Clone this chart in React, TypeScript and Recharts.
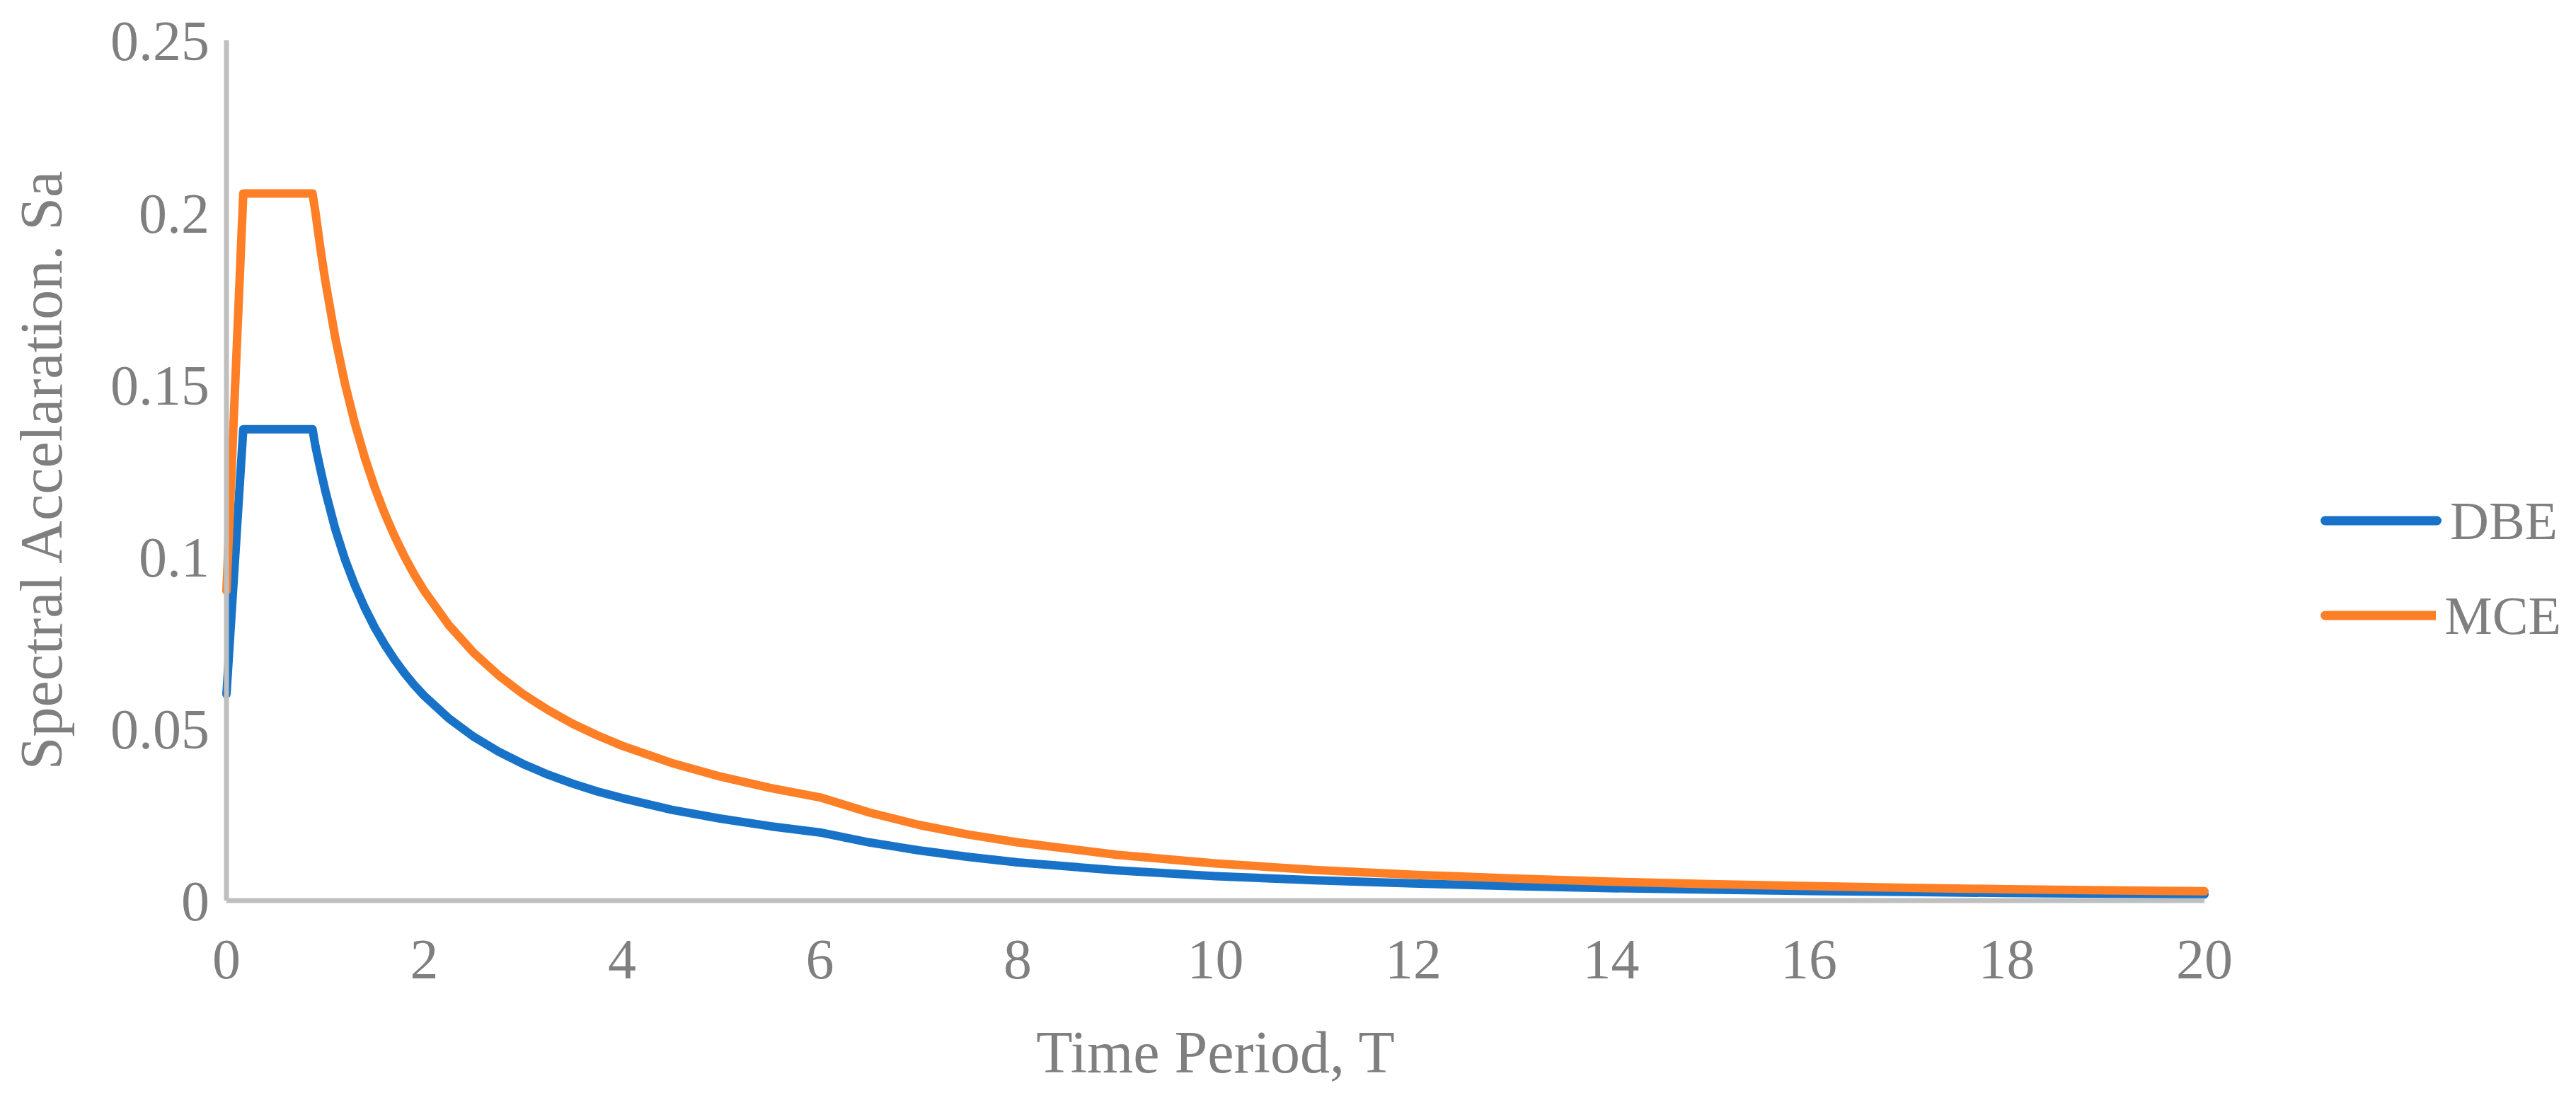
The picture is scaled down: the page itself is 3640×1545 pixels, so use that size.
import React from 'react';
import { LineChart, Line, XAxis, YAxis, Legend } from 'recharts';

// periods (s)
const PERIODS = [
  0, 0.17, 0.5, 0.87, 0.9, 0.95, 1.0, 1.1, 1.2, 1.3, 1.4, 1.5, 1.6, 1.7, 1.8, 1.9, 2.0,
  2.25, 2.5, 2.75, 3.0, 3.25, 3.5, 3.75, 4.0, 4.5, 5.0, 5.5, 6.0, 6.5, 7, 7.5, 8, 9, 10,
  11, 12, 13, 14, 15, 16, 17, 18, 19, 20,
];

const DBE = [
  0.06, 0.137, 0.137, 0.137, 0.132, 0.1253, 0.119, 0.108, 0.099, 0.0915, 0.085, 0.0793,
  0.0744, 0.07, 0.0661, 0.0626, 0.0595, 0.0529, 0.0476, 0.0433, 0.0397, 0.0366, 0.034,
  0.0317, 0.0298, 0.0264, 0.0238, 0.0216, 0.0198, 0.0169, 0.0146, 0.0127, 0.0111, 0.0088,
  0.0071, 0.0059, 0.005, 0.0042, 0.0036, 0.0032, 0.0028, 0.0025, 0.0022, 0.002, 0.0018,
];

const MCE = [
  0.09, 0.2055, 0.2055, 0.2055, 0.2, 0.1895, 0.18, 0.1636, 0.15, 0.1385, 0.1286, 0.12,
  0.1125, 0.1059, 0.1, 0.0947, 0.09, 0.08, 0.072, 0.0655, 0.06, 0.0554, 0.0514, 0.048,
  0.045, 0.04, 0.036, 0.0327, 0.03, 0.0256, 0.022, 0.0192, 0.0169, 0.0133, 0.0108, 0.0089,
  0.0075, 0.0064, 0.0055, 0.0048, 0.0042, 0.0037, 0.0033, 0.003, 0.0027,
];

const X_TICKS = [0, 2, 4, 6, 8, 10, 12, 14, 16, 18, 20];
const Y_TICKS = [0, 0.05, 0.1, 0.15, 0.2, 0.25];

const SERIES = [
  { key: 'dbe', name: 'DBE', color: '#1873C8' },
  { key: 'mce', name: 'MCE', color: '#FF7F27' },
];

const FONT = '"Liberation Serif", "Times New Roman", serif';
const TEXT = '#7F7F7F';
const AXIS = '#BFBFBF';

const data = PERIODS.map((t, i) => ({ t, dbe: DBE[i], mce: MCE[i] }));

const renderLegend = () => (
  <div>
    {SERIES.map((s) => (
      <div key={s.key} style={{ display: 'flex', alignItems: 'center', height: 134 }}>
        <svg width={171} height={20}>
          <line x1={6.5} y1={10} x2={164.5} y2={10} stroke={s.color} strokeWidth={13} strokeLinecap="round" />
        </svg>
        <span style={{ marginLeft: 12, fontSize: 76, lineHeight: 1, color: TEXT, fontFamily: FONT }}>
          {s.name}
        </span>
      </div>
    ))}
  </div>
);

export default function App() {
  return (
    <div style={{ position: 'absolute', left: 0, top: 0, width: 3640, height: 1545, background: '#fff' }}>
      <LineChart width={3640} height={1545} data={data} margin={{ top: 57, right: 185, bottom: 0, left: 0 }}>
        <XAxis
          dataKey="t"
          type="number"
          domain={[0, 20]}
          ticks={X_TICKS}
          interval={0}
          height={272}
          tickSize={0}
          tickMargin={53}
          tickLine={false}
          axisLine={{ stroke: AXIS, strokeWidth: 7 }}
          tick={{ fill: TEXT, fontSize: 80, fontFamily: FONT }}
          label={({ viewBox }: any) => (
            <text
              x={viewBox.x + viewBox.width / 2}
              y={1516}
              textAnchor="middle"
              fill={TEXT}
              fontSize={84}
              fontFamily={FONT}
            >
              Time Period, T
            </text>
          )}
        />
        <YAxis
          type="number"
          domain={[0, 0.25]}
          ticks={Y_TICKS}
          interval={0}
          width={320}
          tickSize={0}
          tickMargin={24}
          tickLine={false}
          axisLine={{ stroke: AXIS, strokeWidth: 7 }}
          tick={{ fill: TEXT, fontSize: 80, fontFamily: FONT }}
          label={({ viewBox }: any) => {
            const cy = viewBox.y + viewBox.height / 2;
            return (
              <text
                x={87}
                y={cy}
                transform={`rotate(-90 87 ${cy})`}
                textAnchor="middle"
                fill={TEXT}
                fontSize={84}
                fontFamily={FONT}
              >
                Spectral Accelaration. Sa
              </text>
            );
          }}
        />
        <Legend
          layout="vertical"
          align="right"
          verticalAlign="top"
          content={renderLegend}
          wrapperStyle={{ left: 3279, top: 669, width: 340 }}
        />
        {SERIES.map((s) => (
          <Line
            key={s.key}
            dataKey={s.key}
            name={s.name}
            type="linear"
            stroke={s.color}
            strokeWidth={12}
            strokeLinecap="round"
            strokeLinejoin="round"
            dot={false}
            activeDot={false}
            isAnimationActive={false}
          />
        ))}
      </LineChart>
    </div>
  );
}
